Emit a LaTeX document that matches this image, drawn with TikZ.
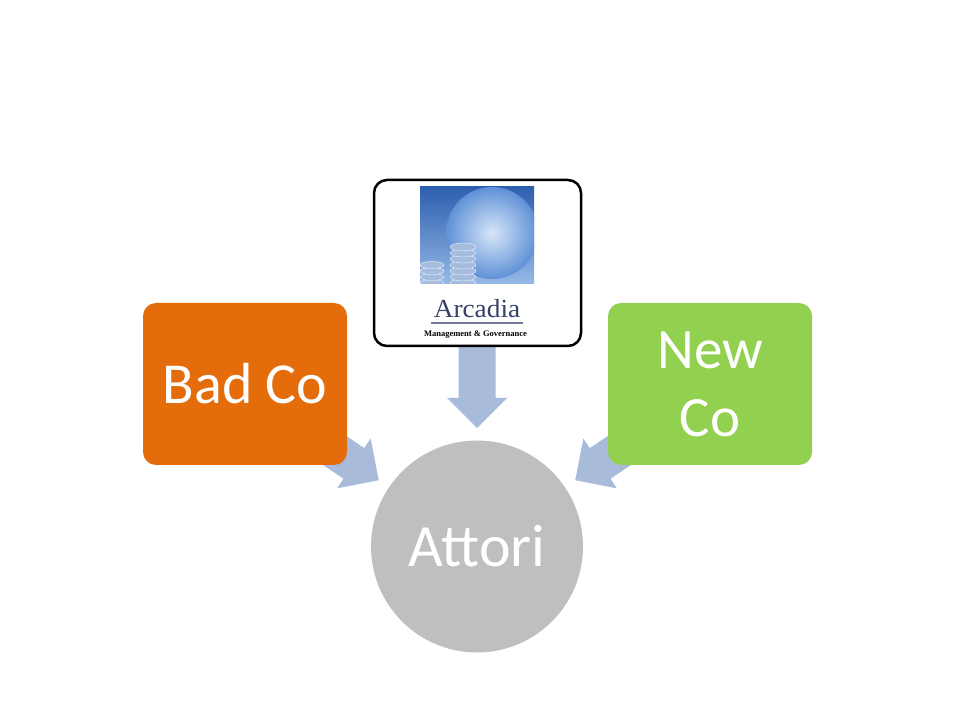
\documentclass[tikz,border=0pt]{standalone}
\usepackage{fontspec}
\setmainfont{Carlito}
\newfontfamily\logofont{Liberation Serif}
\usetikzlibrary{calc,shapes}
\definecolor{badorange}{RGB}{228,108,10}
\definecolor{newgreen}{RGB}{146,208,80}
\definecolor{actorgray}{RGB}{191,191,191}
\definecolor{arrowblue}{RGB}{168,187,219}
\definecolor{logoblue}{RGB}{45,95,175}
\definecolor{logolight}{RGB}{150,185,230}
\definecolor{globeblue}{RGB}{95,145,215}
\definecolor{globelight}{RGB}{215,230,248}
\definecolor{coinfill}{RGB}{165,188,222}
\definecolor{arcadianavy}{RGB}{55,65,105}
\tikzstyle{company} = [rectangle, rounded corners=13pt, minimum width=204pt, minimum height=162pt, align=center, text=white, font=\fontsize{57}{68}\selectfont]
\tikzstyle{actor}   = [circle, minimum size=212pt, inner sep=0pt, fill=actorgray, text=white, font=\fontsize{60}{72}\selectfont]
\tikzstyle{logobox} = [rectangle, rounded corners=13pt, minimum width=207pt, minimum height=166pt, draw=black, line width=2.5pt, fill=white]
\tikzset{blockarrow/.pic={\fill[arrowblue] (-90,-18.5) -- (-30,-18.5) -- (-30,-30) -- (0,0) -- (-30,30) -- (-30,18.5) -- (-90,18.5) -- cycle;}}

\begin{document}
\begin{tikzpicture}[x=1pt,y=1pt]
		\useasboundingbox (0,0) rectangle (960,720);

		\node[actor] (attori) at (477,173.5) {Attori};

		\pic[rotate=-34]  at ($(attori.center)+(146:118.5pt)$) {blockarrow};
		\pic[rotate=-90]  at ($(attori.center)+(90:118.5pt)$)  {blockarrow};
		\pic[rotate=-146] at ($(attori.center)+(34:118.5pt)$)  {blockarrow};

		\node[company, fill=badorange, font=\fontsize{58}{68}\selectfont] (badco) at (245,336) {Bad Co};
		\node[company, fill=newgreen]  (newco) at (710,336) {New\\Co};
		\node[logobox] (arcadia) at (477.5,457) {};

		% logo
		\begin{scope}
			\clip (420,436) rectangle (534,533);
			\shade[top color=logoblue, bottom color=logolight] (420,436) rectangle (534,533);
			\shade[inner color=globelight, outer color=globeblue] (492,487) circle (46pt);
			\foreach \y in {437,443,...,455} \fill[coinfill, draw=white!80!coinfill] (432,\y) ellipse (12pt and 3.5pt);
			\foreach \y in {437,443,...,473} \fill[coinfill, draw=white!80!coinfill] (463,\y) ellipse (13pt and 4pt);
		\end{scope}

		\node[font=\logofont\fontsize{26}{26}\selectfont, text=arcadianavy, xscale=1.05, anchor=base] (arcname) at (477,402) {Arcadia};
		\draw[arcadianavy!70, line width=1.5pt] (431,397) -- (523,397);
		\node[font=\logofont\bfseries\fontsize{8.5}{9}\selectfont, text=black] (arcsub) at (475.5,385) {Management \& Governance};
	\end{tikzpicture}
\end{document}
